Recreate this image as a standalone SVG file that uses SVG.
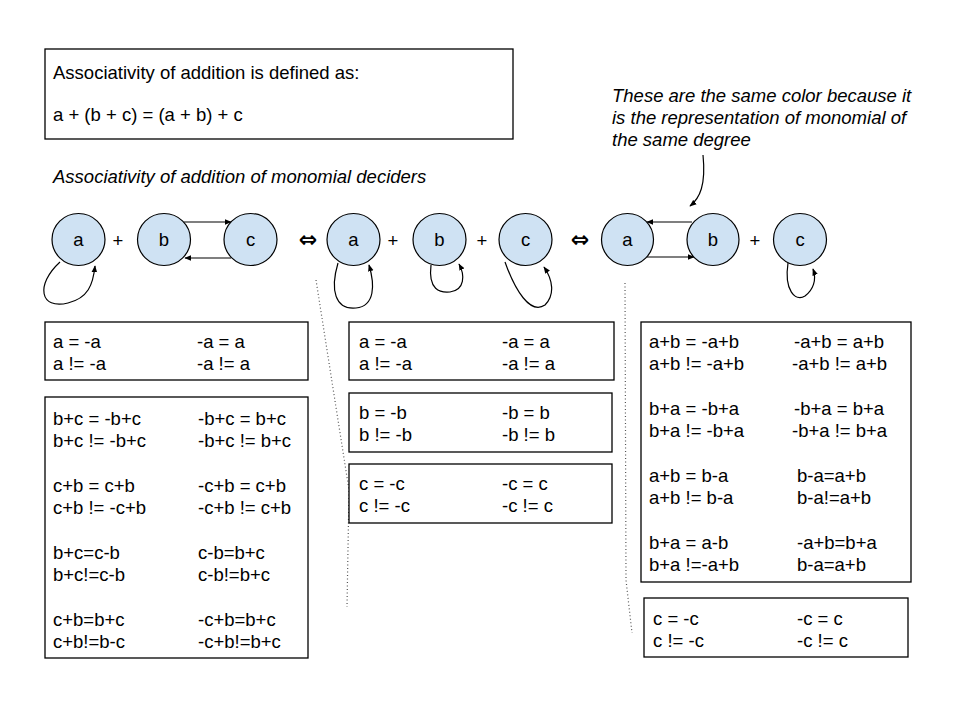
<svg xmlns="http://www.w3.org/2000/svg" width="960" height="720" viewBox="0 0 960 720">
<style>
text{font-family:"Liberation Sans",Arial,"DejaVu Sans",sans-serif;font-size:18.5px;fill:#000}
.it{font-style:italic}
.box{fill:#fff;stroke:#000;stroke-width:1.3}
.node ellipse{fill:#cfe2f3;stroke:#000;stroke-width:1.2}
.node text{text-anchor:middle}
.edge{fill:none;stroke:#000;stroke-width:1.2}
.dot{fill:none;stroke:#555;stroke-width:1.2;stroke-dasharray:1 2.5}
.op{text-anchor:middle}
.iff{text-anchor:middle;font-family:"DejaVu Sans",sans-serif;font-size:22px;font-weight:bold}
</style>
<defs>
<marker id="ah" viewBox="0 0 10 10" refX="9" refY="5" markerWidth="7" markerHeight="7" orient="auto" markerUnits="userSpaceOnUse">
<path d="M0,1 L10,5 L0,9 z" fill="#000"/>
</marker>
</defs>
<rect width="960" height="720" fill="#fff"/>

<g id="definition">
<rect class="box" x="45" y="49" width="468" height="90"/>
<text x="53" y="79">Associativity of addition is defined as:</text>
<text x="53" y="121">a + (b + c) = (a + b) + c</text>
</g>
<text class="it" x="53" y="183">Associativity of addition of monomial deciders</text>

<g id="annotation">
<text class="it" x="612" y="102">These are the same color because it</text>
<text class="it" x="612" y="124">is the representation of monomial of</text>
<text class="it" x="612" y="146">the same degree</text>
</g>

<g id="dividers">
<path class="dot" d="M316,280 L349,490 L347,607"/>
<path class="dot" d="M625,283 L626,580 L632,633"/>
</g>

<g id="connectors">
<path class="edge" d="M703,155 C706,185 700,198 690,206" marker-end="url(#ah)"/>
<path class="edge" d="M184,222 L231,222" marker-end="url(#ah)"/>
<path class="edge" d="M231,258 L185,258" marker-end="url(#ah)"/>
<path class="edge" d="M60,262 C35,285 40,310 68,303 C88,298 93,285 95,266" marker-end="url(#ah)"/>
<path class="edge" d="M338,263 C330,290 335,310 356,308 C375,306 375,285 369,265" marker-end="url(#ah)"/>
<path class="edge" d="M431,265 C428,290 440,293 450,292 C465,290 465,275 459,264" marker-end="url(#ah)"/>
<path class="edge" d="M505,262 C515,290 530,315 545,305 C555,295 553,280 544,267" marker-end="url(#ah)"/>
<path class="edge" d="M692,222 L647,222" marker-end="url(#ah)"/>
<path class="edge" d="M647,257 L694,257" marker-end="url(#ah)"/>
<path class="edge" d="M788,263 C784,290 795,302 805,296 C813,290 817,280 813,269" marker-end="url(#ah)"/>
</g>

<g id="n_a1" class="node"><ellipse cx="78.5" cy="239.5" rx="26.5" ry="26"/><text x="78.5" y="246">a</text></g>
<text class="op" x="118" y="247">+</text>
<g id="n_b1" class="node"><ellipse cx="164" cy="239.5" rx="26.5" ry="26"/><text x="164" y="246">b</text></g>
<g id="n_c1" class="node"><ellipse cx="250.5" cy="239.5" rx="26.5" ry="26"/><text x="250.5" y="246">c</text></g>
<text class="iff" x="308" y="247">⇔</text>

<g id="n_a2" class="node"><ellipse cx="353.5" cy="239.5" rx="26.5" ry="26"/><text x="353.5" y="246">a</text></g>
<text class="op" x="393" y="247">+</text>
<g id="n_b2" class="node"><ellipse cx="439.5" cy="239.5" rx="26.5" ry="26"/><text x="439.5" y="246">b</text></g>
<text class="op" x="482" y="247">+</text>
<g id="n_c2" class="node"><ellipse cx="525.5" cy="239.5" rx="26.5" ry="26"/><text x="525.5" y="246">c</text></g>
<text class="iff" x="580" y="247">⇔</text>

<g id="n_a3" class="node"><ellipse cx="627.5" cy="239.5" rx="26" ry="26"/><text x="627.5" y="246">a</text></g>
<g id="n_b3" class="node"><ellipse cx="713" cy="239.5" rx="26" ry="26"/><text x="713" y="246">b</text></g>
<text class="op" x="755" y="247">+</text>
<g id="n_c3" class="node"><ellipse cx="800" cy="239.5" rx="26.5" ry="26"/><text x="800" y="246">c</text></g>

<g id="box_l1">
<rect class="box" x="45" y="322" width="263" height="58"/>
<text x="53" y="348">a = -a</text><text x="197" y="348">-a = a</text>
<text x="53" y="370">a != -a</text><text x="197" y="370">-a != a</text>
</g>
<g id="box_l2">
<rect class="box" x="45" y="397" width="263" height="261"/>
<text x="53" y="425">b+c = -b+c</text><text x="198" y="425">-b+c = b+c</text>
<text x="53" y="447">b+c != -b+c</text><text x="198" y="447">-b+c != b+c</text>
<text x="53" y="492">c+b = c+b</text><text x="198" y="492">-c+b = c+b</text>
<text x="53" y="514">c+b != -c+b</text><text x="198" y="514">-c+b != c+b</text>
<text x="53" y="559">b+c=c-b</text><text x="198" y="559">c-b=b+c</text>
<text x="53" y="581">b+c!=c-b</text><text x="198" y="581">c-b!=b+c</text>
<text x="53" y="626">c+b=b+c</text><text x="198" y="626">-c+b=b+c</text>
<text x="53" y="648">c+b!=b-c</text><text x="198" y="648">-c+b!=b+c</text>
</g>

<g id="box_m1">
<rect class="box" x="349" y="322" width="265" height="58"/>
<text x="359" y="348">a = -a</text><text x="502" y="348">-a = a</text>
<text x="359" y="370">a != -a</text><text x="502" y="370">-a != a</text>
</g>
<g id="box_m2">
<rect class="box" x="349" y="393" width="263" height="59"/>
<text x="359" y="419">b = -b</text><text x="502" y="419">-b = b</text>
<text x="359" y="441">b != -b</text><text x="502" y="441">-b != b</text>
</g>
<g id="box_m3">
<rect class="box" x="349" y="464" width="263" height="59"/>
<text x="359" y="490">c = -c</text><text x="502" y="490">-c = c</text>
<text x="359" y="512">c != -c</text><text x="502" y="512">-c != c</text>
</g>

<g id="box_r1">
<rect class="box" x="641" y="322" width="270" height="260"/>
<text x="649" y="348">a+b = -a+b</text><text x="794" y="348">-a+b = a+b</text>
<text x="649" y="370">a+b != -a+b</text><text x="792" y="370">-a+b != a+b</text>
<text x="649" y="415">b+a = -b+a</text><text x="794" y="415">-b+a = b+a</text>
<text x="649" y="437">b+a != -b+a</text><text x="792" y="437">-b+a != b+a</text>
<text x="649" y="482">a+b = b-a</text><text x="797" y="482">b-a=a+b</text>
<text x="649" y="504">a+b != b-a</text><text x="797" y="504">b-a!=a+b</text>
<text x="649" y="549">b+a = a-b</text><text x="797" y="549">-a+b=b+a</text>
<text x="649" y="571">b+a !=-a+b</text><text x="797" y="571">b-a=a+b</text>
</g>
<g id="box_r2">
<rect class="box" x="644" y="598" width="264" height="59"/>
<text x="653" y="625">c = -c</text><text x="797" y="625">-c = c</text>
<text x="653" y="647">c != -c</text><text x="797" y="647">-c != c</text>
</g>
</svg>
